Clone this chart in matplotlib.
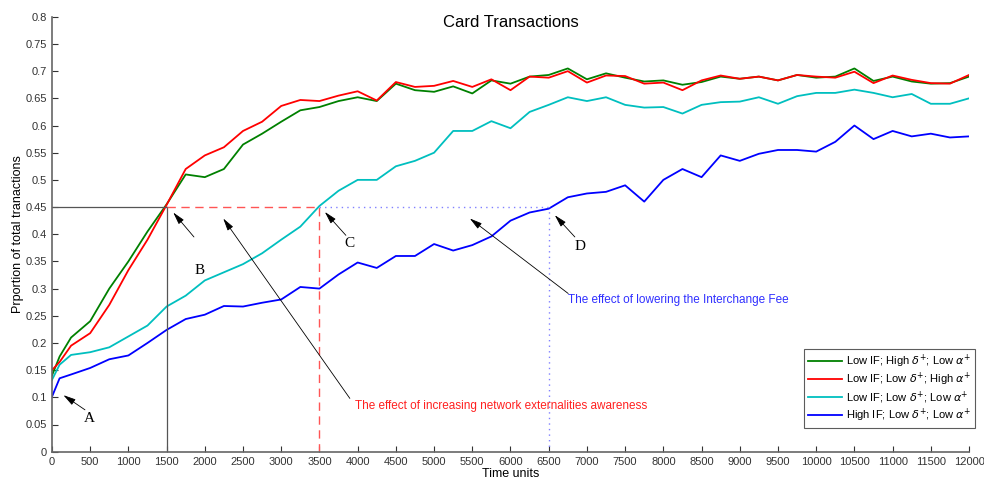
import matplotlib
matplotlib.use("Agg")
import matplotlib.pyplot as plt
from matplotlib.ticker import FuncFormatter, MultipleLocator

# time grid (time units)
time_units = [0, 100, 250, 500, 750, 1000, 1250, 1500, 1750, 2000, 2250, 2500, 2750,
              3000, 3250, 3500, 3750, 4000, 4250, 4500, 4750, 5000, 5250, 5500, 5750,
              6000, 6250, 6500, 6750, 7000, 7250, 7500, 7750, 8000, 8250, 8500, 8750,
              9000, 9250, 9500, 9750, 10000, 10250, 10500, 10750, 11000, 11250, 11500,
              11750, 12000]

low_if_high_delta = [0.14, 0.175, 0.21, 0.24, 0.30, 0.35, 0.405, 0.455, 0.51, 0.505,
                     0.52, 0.565, 0.585, 0.607, 0.628, 0.634, 0.645, 0.652, 0.645, 0.677,
                     0.665, 0.662, 0.672, 0.659, 0.683, 0.677, 0.69, 0.693, 0.705, 0.685,
                     0.696, 0.688, 0.681, 0.683, 0.675, 0.68, 0.69, 0.686, 0.69, 0.683,
                     0.693, 0.688, 0.69, 0.705, 0.682, 0.69, 0.681, 0.677, 0.678, 0.69]

low_if_high_alpha = [0.15, 0.165, 0.195, 0.218, 0.27, 0.334, 0.39, 0.454, 0.52, 0.545,
                     0.56, 0.59, 0.607, 0.636, 0.647, 0.645, 0.655, 0.663, 0.646, 0.68,
                     0.671, 0.673, 0.682, 0.671, 0.685, 0.665, 0.69, 0.688, 0.70, 0.679,
                     0.692, 0.691, 0.677, 0.679, 0.665, 0.683, 0.692, 0.686, 0.69, 0.683,
                     0.693, 0.69, 0.688, 0.699, 0.678, 0.692, 0.684, 0.678, 0.677, 0.693]

low_if_low = [0.132, 0.16, 0.178, 0.183, 0.192, 0.212, 0.232, 0.267, 0.287, 0.315,
              0.33, 0.345, 0.365, 0.39, 0.414, 0.452, 0.48, 0.5, 0.5, 0.525,
              0.535, 0.55, 0.59, 0.59, 0.608, 0.595, 0.625, 0.638, 0.652, 0.645,
              0.652, 0.638, 0.633, 0.634, 0.622, 0.638, 0.643, 0.644, 0.652, 0.64,
              0.654, 0.66, 0.66, 0.666, 0.66, 0.652, 0.658, 0.64, 0.64, 0.65]

high_if_low = [0.101, 0.135, 0.142, 0.154, 0.17, 0.177, 0.2, 0.224, 0.244, 0.252,
               0.268, 0.267, 0.274, 0.28, 0.303, 0.30, 0.326, 0.348, 0.338, 0.36,
               0.36, 0.382, 0.37, 0.38, 0.396, 0.425, 0.44, 0.447, 0.468, 0.475,
               0.478, 0.49, 0.46, 0.5, 0.52, 0.505, 0.545, 0.535, 0.548, 0.555,
               0.555, 0.552, 0.57, 0.6, 0.575, 0.59, 0.58, 0.585, 0.578, 0.58]

labels = [r"Low IF; High $\delta^{+}$; Low $\alpha^{+}$",
          r"Low IF; Low $\delta^{+}$; High $\alpha^{+}$",
          r"Low IF; Low $\delta^{+}$; Low $\alpha^{+}$",
          r"High IF; Low $\delta^{+}$; Low $\alpha^{+}$"]
colors = ["#008000", "#ff0000", "#00bfbf", "#0000ff"]

level = 0.45
t_b, t_c, t_d = 1500, 3500, 6500

# letter markers: (letter, arrow head, arrow tail, text position)
letters = [("A", (150, 0.104), (432, 0.077), (488, 0.061)),
           ("B", (1587, 0.44), (1858, 0.395), (1936, 0.334)),
           ("C", (3571, 0.441), (3846, 0.398), (3898, 0.383)),
           ("D", (6580, 0.435), (6842, 0.395), (6907, 0.378))]

plt.rcParams["font.family"] = ["Liberation Sans", "DejaVu Sans"]
plt.rcParams["mathtext.fontset"] = "dejavusans"

fig = plt.figure(figsize=(9.84, 4.8), dpi=100)
ax = fig.add_axes([0.0528, 0.059, 0.932, 0.906])

for series, color, label in zip([low_if_high_delta, low_if_high_alpha, low_if_low, high_if_low],
                                colors, labels):
    ax.plot(time_units, series, color=color, lw=1.3, label=label)

# reference lines
ax.plot([0, t_b], [level, level], color="#555555", lw=0.9)
ax.plot([t_b, t_b], [0, level], color="#555555", lw=0.9)
ax.plot([t_b, t_c], [level, level], color="#ff5555", lw=1.0, dashes=(6, 4))
ax.plot([t_c, t_c], [0, level], color="#ff5555", lw=1.0, dashes=(6, 4))
ax.plot([t_c, t_d], [level, level], color="#8080ff", lw=1.0, dashes=(1, 3))
ax.plot([t_d, t_d], [0, level], color="#8080ff", lw=1.0, dashes=(1, 3))

arrow = dict(arrowstyle="-|>,head_length=0.75,head_width=0.2", color="black", lw=0.6,
             shrinkA=0, shrinkB=0)
serif = ["Liberation Serif", "DejaVu Serif"]
for letter, head, tail, pos in letters:
    ax.annotate("", xy=head, xytext=tail, arrowprops=arrow)
    ax.text(pos[0], pos[1], letter, fontsize=11, family=serif, ha="center", va="center")

ax.annotate("", xy=(2241, 0.429), xytext=(3898, 0.098), arrowprops=arrow)
ax.text(3964, 0.084, "The effect of increasing network externalities awareness",
        color="#ff2020", fontsize=8.5, ha="left", va="center")
ax.annotate("", xy=(5468, 0.429), xytext=(6755, 0.291), arrowprops=arrow)
ax.text(6750, 0.279, "The effect of lowering the Interchange Fee",
        color="#3030ff", fontsize=8.5, ha="left", va="center")

ax.set_xlim(0, 12000)
ax.set_ylim(0, 0.8)
ax.xaxis.set_major_locator(MultipleLocator(500))
ax.yaxis.set_major_locator(MultipleLocator(0.05))
ax.yaxis.set_major_formatter(FuncFormatter(lambda v, p: f"{v:g}"))
ax.tick_params(direction="in", labelsize=8, colors="#333333", length=4, width=0.8)
for side in ("top", "right"):
    ax.spines[side].set_visible(False)
for side in ("left", "bottom"):
    ax.spines[side].set_color("#666666")
    ax.spines[side].set_linewidth(1.2)

ax.set_xlabel("Time units", fontsize=9, labelpad=1)
ax.set_ylabel("Prportion of total tranactions", fontsize=9, labelpad=1)
ax.text(0.5, 0.988, "Card Transactions", transform=ax.transAxes, ha="center", va="center",
        fontsize=12)

leg = ax.legend(loc="lower right", bbox_to_anchor=(1.0065, 0.054), borderaxespad=0,
                fontsize=8, frameon=True, fancybox=False, edgecolor="#333333",
                handlelength=3.0, borderpad=0.35, labelspacing=0.1, handletextpad=0.4)
leg.get_frame().set_linewidth(0.8)

fig.savefig("out.png", dpi=100)
